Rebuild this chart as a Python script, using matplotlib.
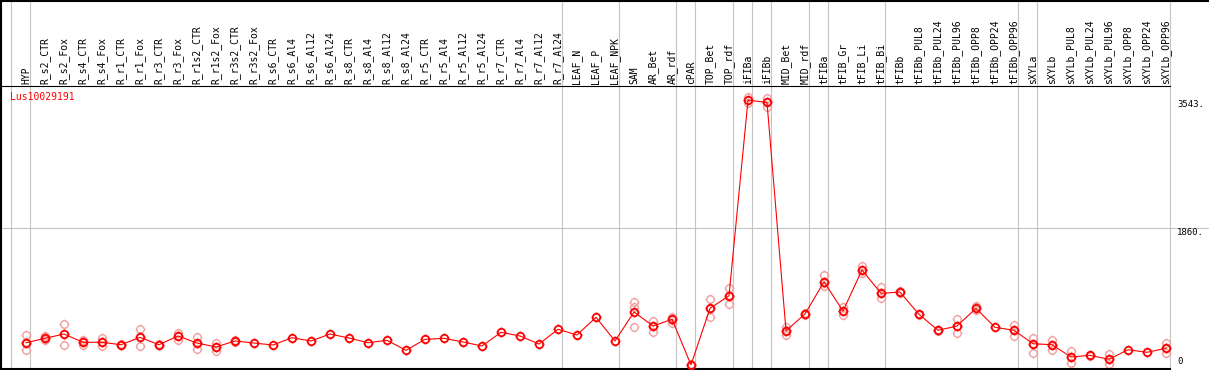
import numpy as np
import matplotlib
matplotlib.use('Agg')
import matplotlib.pyplot as plt
import matplotlib.transforms as mtransforms
from matplotlib.path import Path
from matplotlib.lines import Line2D

plt.rcParams['font.family'] = 'DejaVu Sans Mono'

gene = 'Lus10029191'

labels = ['HYP',
          'R_s2_CTR', 'R_s2_Fox', 'R_s4_CTR', 'R_s4_Fox', 'R_r1_CTR', 'R_r1_Fox',
          'R_r3_CTR', 'R_r3_Fox', 'R_r1s2_CTR', 'R_r1s2_Fox', 'R_r3s2_CTR', 'R_r3s2_Fox',
          'R_s6_CTR', 'R_s6_Al4', 'R_s6_Al12', 'R_s6_Al24',
          'R_s8_CTR', 'R_s8_Al4', 'R_s8_Al12', 'R_s8_Al24',
          'R_r5_CTR', 'R_r5_Al4', 'R_r5_Al12', 'R_r5_Al24',
          'R_r7_CTR', 'R_r7_Al4', 'R_r7_Al12', 'R_r7_Al24',
          'LEAF_N', 'LEAF_P', 'LEAF_NPK', 'SAM', 'AR_Bet', 'AR_rdf', 'cPAR',
          'TOP_Bet', 'TOP_rdf', 'iFIBa', 'iFIBb', 'MID_Bet', 'MID_rdf',
          'tFIBa', 'tFIB_Gr', 'tFIB_Li', 'tFIB_Bi',
          'tFIBb', 'tFIBb_PUL8', 'tFIBb_PUL24', 'tFIBb_PUL96',
          'tFIBb_OPP8', 'tFIBb_OPP24', 'tFIBb_OPP96',
          'sXYLa', 'sXYLb', 'sXYLb_PUL8', 'sXYLb_PUL24', 'sXYLb_PUL96',
          'sXYLb_OPP8', 'sXYLb_OPP24', 'sXYLb_OPP96']

means = [346, 404, 461, 352, 352, 320, 417, 320, 435, 342, 290, 369,
         342, 316, 412, 369, 461, 408, 346, 378, 246, 391, 404, 356, 303,
         483, 435, 329, 523, 448, 681, 369, 751, 566, 655, 55,
         799, 965, 3543, 3512, 504, 724, 1150, 764, 1304, 997,
         1014, 720, 510, 566, 799, 549, 510,
         333, 320, 158, 180, 128, 254, 220, 273]

reps = [[448, 356, 250], [435, 395, 382], [593, 461, 316], [382, 356, 316],
        [408, 356, 307], [330, 320, 310], [527, 417, 303], [330, 315],
        [474, 435, 382], [417, 342, 259], [338, 290, 241], [380, 360],
        [], [], [], [], [], [], [], [], [], [], [], [], [], [], [], [], [],
        [], [], [],
        [886, 821, 549], [636, 483, 566], [689, 610, 645], [62, 55],
        [922, 689, 790], [1063, 852, 975], [3586, 3499, 3543], [3565, 3447, 3520],
        [549, 448, 510], [735, 713], [1238, 1097, 1130], [820, 711, 764],
        [1360, 1270, 1300], [1084, 931, 997],
        [1030, 1000], [730, 710], [520, 500], [655, 470, 566], [830, 775], [],
        [580, 435, 510],
        [404, 215, 333], [382, 250, 320], [241, 83, 158], [190, 170],
        [198, 62, 128], [], [], [338, 215, 273]]

# first column of each sample group
group_starts = [0, 1, 29, 32, 35, 36, 38, 39, 40, 42, 43, 46, 53, 54, 61]

ytick_vals = [3543, 1860, 0]
ytick_text = ['3543.', '1860.', '0']

W, H = 1209, 370
fig = plt.figure(figsize=(W / 100, H / 100), dpi=100)
ax = fig.add_axes([0, 1 / H, 1, 282 / H])
ax.set_xlim(-26 / 19, (W - 26) / 19)
ax.set_ylim(0, 282 / 0.0759)
ax.axis('off')

trans = mtransforms.blended_transform_factory(ax.transData, fig.transFigure)

# circle marker with little ticks
circ = Path.unit_circle()
ticks = Path([(0, 1), (0, 1.3), (0, -1), (0, -1.3), (1, 0), (1.3, 0), (-1, 0), (-1.3, 0)],
             [Path.MOVETO, Path.LINETO] * 4)
mk = Path.make_compound_path(circ, ticks)

x = np.arange(len(labels))
edge = 61 - 15 / 19

# grid lines
for b in group_starts:
    ax.plot([b - 15 / 19] * 2, [0, 1], transform=trans, color='#c4c4c4', lw=0.8,
            clip_on=False, zorder=1)
ax.axhline(1860, color='#c4c4c4', lw=0.8, zorder=1)

# header labels
for i, lab in enumerate(labels):
    ax.text(i, 1 - 84 / H, lab, rotation=90, ha='center', va='bottom', fontsize=7,
            transform=trans)

# replicates
for i, r in enumerate(reps):
    if len(r) == 0:
        continue
    ax.plot([i] * len(r), r, linestyle='none', marker=mk, ms=7, mfc='none',
            mec='#f2a0a0', mew=1.0, clip_on=False, zorder=2)

# mean profile
ax.plot(x, means, color='red', lw=0.8, marker=mk, ms=7, mfc='none', mec='red',
        mew=1.3, clip_on=False, zorder=3)

# frame lines
ax.plot([ax.get_xlim()[0], edge], [1 - 86 / H] * 2, transform=trans, color='black',
        lw=0.8, clip_on=False)
ax.plot([ax.get_xlim()[0], edge], [0, 0], color='black', lw=1.5, clip_on=False)
fig.add_artist(Line2D([0, 1], [1 - 0.5 / H] * 2, transform=fig.transFigure,
                      color='black', lw=1.5))
fig.add_artist(Line2D([1 / W] * 2, [0, 1], transform=fig.transFigure,
                      color='black', lw=1.5))

# value labels on the right
ytrans = mtransforms.blended_transform_factory(fig.transFigure, ax.transData)
for v, t in zip(ytick_vals, ytick_text):
    if v == 0:
        tr = mtransforms.offset_copy(ytrans, fig=fig, y=3, units='dots')
        ax.text(1177 / W, v, t, fontsize=6.5, ha='left', va='bottom', transform=tr)
    else:
        ax.text(1177 / W, v, t, fontsize=6.5, ha='left', va='top', transform=ytrans)

fig.text(10 / W, 1 - 97 / H, gene, color='red', fontsize=7, va='center', ha='left')

fig.savefig('out.png', dpi=100)
